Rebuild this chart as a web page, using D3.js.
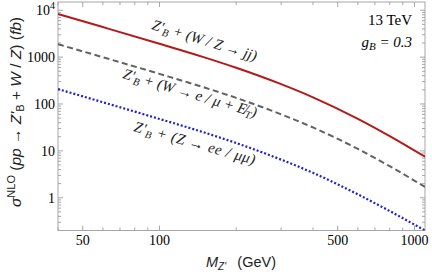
<!DOCTYPE html>
<html>
<head>
<meta charset="utf-8">
<script src="https://cdn.jsdelivr.net/npm/d3@7"></script>
<style>
  body { margin: 0; background: #fff; }
  text { font-family: "Liberation Serif", "DejaVu Serif", serif; }
  .sans { font-family: "Liberation Sans", Arial, sans-serif; }
</style>
</head>
<body>
<script>
// Z' mass (GeV) and NLO cross sections (fb)
const masses = [40, 60, 100, 150, 200, 300, 400, 600, 800, 1100]
const sigJJ  = [8300, 4375, 1932, 989, 593, 265, 139, 48.4, 20.7, 7.5]
const sigLNu = [1886, 994, 439, 225, 135, 60.2, 31.6, 11.0, 4.7, 1.7]
const sigLL  = [208, 109, 48, 24.6, 14.7, 6.5, 3.4, 1.18, 0.52, 0.2]

const xMajor = [50, 100, 500, 1000]
const yMajor = [1, 10, 100, 1000, 10000]
const yLabels = ['1', '10', '100', '1000', '10^4']

var width = 432,
    height = 274
var margin = {top: 2, right: 7, bottom: 43.5, left: 58}

var svg = d3.select('body').append('svg')
    .attr('width', width)
    .attr('height', height)

var x = d3.scaleLog()
    .domain([40, 1100])
    .range([margin.left, width - margin.right])
var y = d3.scaleLog()
    .domain([0.2, 15000])
    .range([height - margin.bottom, margin.top])

var x0 = x.range()[0], x1 = x.range()[1]
var y0 = y.range()[0], y1 = y.range()[1]

svg.append('clipPath').attr('id', 'clip')
    .append('rect')
    .attr('x', x0).attr('y', y1)
    .attr('width', x1 - x0).attr('height', y0 - y1)

// minor ticks
var xMinor = []
for (let d = 10; d <= 1000; d *= 10)
    for (let k = 1; k < 10; k++) {
        let v = d * k
        if (v >= 40 && v <= 1100 && xMajor.indexOf(v) < 0) xMinor.push(v)
    }
var yMinor = []
for (let d = 0.1; d <= 10000; d *= 10)
    for (let k = 2; k < 10; k++) {
        let v = +(d * k).toPrecision(3)
        if (v >= 0.2 && v <= 15000) yMinor.push(v)
    }

var frame = svg.append('g').attr('stroke', '#a6a6a6').attr('fill', 'none')
frame.append('rect')
    .attr('x', x0).attr('y', y1)
    .attr('width', x1 - x0).attr('height', y0 - y1)
    .attr('stroke-width', 1)

function xTicks(vals, len) {
    frame.selectAll(null).data(vals).enter().append('line')
        .attr('x1', d => x(d)).attr('x2', d => x(d))
        .attr('y1', y0).attr('y2', y0 - len)
    frame.selectAll(null).data(vals).enter().append('line')
        .attr('x1', d => x(d)).attr('x2', d => x(d))
        .attr('y1', y1).attr('y2', y1 + len)
}
function yTicks(vals, len) {
    frame.selectAll(null).data(vals).enter().append('line')
        .attr('y1', d => y(d)).attr('y2', d => y(d))
        .attr('x1', x0).attr('x2', x0 + len)
    frame.selectAll(null).data(vals).enter().append('line')
        .attr('y1', d => y(d)).attr('y2', d => y(d))
        .attr('x1', x1).attr('x2', x1 - len)
}
xTicks(xMajor, 5)
xTicks(xMinor, 3)
yTicks(yMajor, 5)
yTicks(yMinor, 3)

// tick labels
svg.append('g').selectAll('text').data(xMajor).enter().append('text')
    .attr('x', d => x(d))
    .attr('y', 245)
    .attr('text-anchor', 'middle')
    .attr('font-size', 14)
    .text(d => d)

var yl = svg.append('g').selectAll('text').data(yMajor).enter().append('text')
    .attr('x', 55)
    .attr('y', d => y(d) + 5)
    .attr('text-anchor', 'end')
    .attr('font-size', 14)
yl.each(function(d, i) {
    let s = yLabels[i].split('^')
    let t = d3.select(this)
    t.append('tspan').text(s[0])
    if (s[1]) t.append('tspan').attr('font-size', 10).attr('dy', -6).text(s[1])
})

// curves
var line = d3.line()
    .x(d => x(d[0]))
    .y(d => y(d[1]))
    .curve(d3.curveMonotoneX)

var series = [
    {vals: sigJJ, color: '#b31b1b', dash: null, w: 2},
    {vals: sigLNu, color: '#626262', dash: '6,3.5', w: 2},
    {vals: sigLL, color: '#1f1fd6', dash: '2,2', w: 2.2}
]
svg.append('g').attr('clip-path', 'url(#clip)')
    .selectAll('path').data(series).enter().append('path')
    .attr('d', s => line(masses.map((m, i) => [m, s.vals[i]])))
    .attr('fill', 'none')
    .attr('stroke', s => s.color)
    .attr('stroke-width', s => s.w)
    .attr('stroke-dasharray', s => s.dash)

// curve labels
function curveLabel(px, py, ang, sp, parts) {
    let t = svg.append('text')
        .attr('transform', `translate(${px},${py}) rotate(${ang})`)
        .attr('font-size', 15)
        .attr('font-style', 'italic')
        .attr('letter-spacing', sp)
        .attr('fill', '#222')
    parts.forEach(p => {
        let ts = t.append('tspan').text(p[0])
        if (p[1] == 'sub') ts.attr('font-size', 10.5).attr('dy', 3)
        if (p[1] == 'up') ts.attr('dy', -3)
    })
}
curveLabel(151, 29, 17, 0, [["Z'"], ['B', 'sub'], [' + (W / Z \u2192 jj)', 'up']])
curveLabel(122, 78, 16.5, 0, [["Z'"], ['B', 'sub'], [' + (W \u2192 e / \u03bc + E\u0338', 'up'], ['T', 'sub'], [')', 'up']])
curveLabel(133, 131, 15.5, 0.5, [["Z'"], ['B', 'sub'], [' + (Z \u2192 ee / \u03bc\u03bc)', 'up']])

// energy and coupling
svg.append('text')
    .attr('x', 412).attr('y', 25)
    .attr('text-anchor', 'end')
    .attr('font-size', 15)
    .text('13 TeV')
var g = svg.append('text')
    .attr('x', 412).attr('y', 47)
    .attr('text-anchor', 'end')
    .attr('font-size', 15)
    .attr('font-style', 'italic')
g.append('tspan').text('g')
g.append('tspan').attr('font-size', 11).attr('dy', 3).text('B')
g.append('tspan').attr('dy', -3).text('  = 0.3')

// axis titles
var xt = svg.append('text').attr('class', 'sans')
    .attr('x', 241).attr('y', 267)
    .attr('text-anchor', 'middle')
    .attr('font-size', 14.5)
    .attr('fill', '#222')
xt.append('tspan').attr('font-style', 'italic').text('M')
xt.append('tspan').attr('font-style', 'italic').attr('font-size', 10).attr('dy', 3).text("Z'")
xt.append('tspan').attr('dy', -3).text('\u2002 (GeV)')

var yt = svg.append('text').attr('class', 'sans')
    .attr('transform', 'translate(21,112) rotate(-90)')
    .attr('text-anchor', 'middle')
    .attr('font-size', 15.5)
    .attr('fill', '#222')
yt.append('tspan').attr('font-style', 'italic').text('\u03c3')
yt.append('tspan').attr('font-size', 11).attr('dy', -6).text('NLO')
yt.append('tspan').attr('dy', 6).text(' (')
yt.append('tspan').attr('font-style', 'italic').text('pp')
yt.append('tspan').text(' \u2192 ')
yt.append('tspan').attr('font-style', 'italic').text("Z'")
yt.append('tspan').attr('font-size', 11).attr('dy', 3).text('B')
yt.append('tspan').attr('dy', -3).text(' + ')
yt.append('tspan').attr('font-style', 'italic').text('W')
yt.append('tspan').text(' / ')
yt.append('tspan').attr('font-style', 'italic').text('Z')
yt.append('tspan').text(')  (')
yt.append('tspan').attr('font-style', 'italic').text('fb')
yt.append('tspan').text(')')
</script>
</body>
</html>
